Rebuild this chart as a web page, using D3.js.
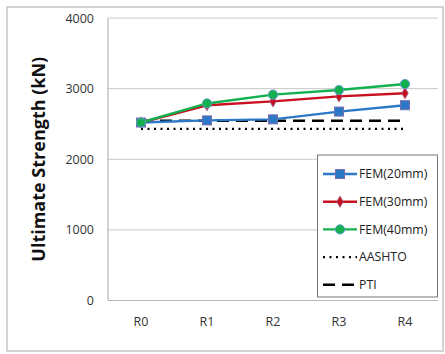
<!DOCTYPE html>
<html>
<head>
<meta charset="utf-8">
<script src="https://cdn.jsdelivr.net/npm/d3@7"></script>
<style>
  html, body { margin: 0; padding: 0; background: #fff; }
  svg { display: block; font-family: "Open Sans", "Noto Sans", sans-serif; }
</style>
</head>
<body>
<svg id="chart" width="445" height="354"></svg>
<script>
// Reinforcement cases along the x axis
const categories = ["R0", "R1", "R2", "R3", "R4"];

// Ultimate strength (kN) from the finite element runs
const fem20 = [2520, 2550, 2565, 2675, 2765];
const fem30 = [2520, 2765, 2820, 2890, 2935];
const fem40 = [2520, 2790, 2915, 2980, 3065];

// Code-based predictions (constant across cases)
const aashto = [2430, 2430, 2430, 2430, 2430];
const pti = [2545, 2545, 2545, 2545, 2545];

const yTicks = [0, 1000, 2000, 3000, 4000];

const series = [
  { name: "FEM(20mm)", values: fem20, color: "#2a78c6", marker: "square" },
  { name: "FEM(30mm)", values: fem30, color: "#c8101e", marker: "diamond" },
  { name: "FEM(40mm)", values: fem40, color: "#12b04e", marker: "circle" },
  { name: "AASHTO", values: aashto, color: "#000", dash: "2,4.5", width: 2.2 },
  { name: "PTI", values: pti, color: "#000", dash: "12,7", width: 2.6 }
];

const svg = d3.select("#chart");
const plot = { left: 108, right: 438, top: 18, bottom: 300.5 };

// outer chart frame
svg.append("rect")
  .attr("x", 7).attr("y", 7).attr("width", 436).attr("height", 344)
  .attr("fill", "#fff").attr("stroke", "#c4c4c4").attr("stroke-width", 1.5);

const x = d3.scaleBand().domain(categories).range([plot.left, plot.right]);
const y = d3.scaleLinear().domain([0, 4000]).range([plot.bottom, plot.top]);

// horizontal gridlines
svg.append("g").selectAll("line").data(yTicks.filter(d => d > 0)).join("line")
  .attr("x1", plot.left).attr("x2", plot.right)
  .attr("y1", d => y(d)).attr("y2", d => y(d))
  .attr("stroke", "#c8c8c8").attr("stroke-width", 1);

// axis lines
svg.append("line")
  .attr("x1", plot.left).attr("x2", plot.left)
  .attr("y1", plot.top).attr("y2", plot.bottom)
  .attr("stroke", "#b8b8b8").attr("stroke-width", 1.2);
svg.append("line")
  .attr("x1", plot.left).attr("x2", plot.right)
  .attr("y1", plot.bottom).attr("y2", plot.bottom)
  .attr("stroke", "#b8b8b8").attr("stroke-width", 1.2);

// y axis tick labels
const yAxis = d3.axisLeft(y).tickValues(yTicks).tickFormat(d3.format("d"))
  .tickSize(0).tickPadding(14);
const gy = svg.append("g").attr("transform", `translate(${plot.left},0)`).call(yAxis);
gy.select(".domain").remove();
gy.selectAll("text").attr("font-size", 12.5).attr("fill", "#333")
  .attr("font-family", "'Open Sans', sans-serif");

// x axis category labels
const xAxis = d3.axisBottom(x).tickSize(0).tickPadding(17);
const gx = svg.append("g").attr("transform", `translate(0,${plot.bottom})`).call(xAxis);
gx.select(".domain").remove();
gx.selectAll("text").attr("font-size", 12.5).attr("fill", "#333")
  .attr("font-family", "'Open Sans', sans-serif");

// y axis title
svg.append("text")
  .attr("transform", `translate(45,${(plot.top + plot.bottom) / 2}) rotate(-90)`)
  .attr("text-anchor", "middle")
  .attr("font-size", 18).attr("font-weight", "bold").attr("fill", "#111")
  .text("Ultimate Strength (kN)");

const cx = c => x(c) + x.bandwidth() / 2;
const line = d3.line().x((d, i) => cx(categories[i])).y(d => y(d));

function drawMarker(g, type, px, py, color) {
  if (type === "square") {
    g.append("rect").attr("x", px - 4.5).attr("y", py - 4.5).attr("width", 9).attr("height", 9)
      .attr("fill", color).attr("stroke", "#7a6cae").attr("stroke-width", 1);
  } else if (type === "diamond") {
    g.append("path").attr("d", d3.symbol(d3.symbolDiamond, 36)())
      .attr("transform", `translate(${px},${py})`)
      .attr("fill", color).attr("stroke", "#9a5a8a").attr("stroke-width", 0.8);
  } else if (type === "circle") {
    g.append("circle").attr("cx", px).attr("cy", py).attr("r", 4.6)
      .attr("fill", color).attr("stroke", "#5f9bc8").attr("stroke-width", 1);
  }
}

// reference lines drawn first, FEM series on top
const order = [3, 4, 0, 1, 2];
order.forEach(k => {
  const s = series[k];
  const g = svg.append("g");
  g.append("path").datum(s.values).attr("d", line)
    .attr("fill", "none").attr("stroke", s.color)
    .attr("stroke-width", s.width || 2.4)
    .attr("stroke-dasharray", s.dash || null);
  if (s.marker) {
    s.values.forEach((v, i) => drawMarker(g, s.marker, cx(categories[i]), y(v), s.color));
  }
});

// legend
const lg = svg.append("g");
lg.append("rect").attr("x", 317.5).attr("y", 155).attr("width", 120).attr("height", 142)
  .attr("fill", "#fff").attr("stroke", "#777").attr("stroke-width", 1);
series.forEach((s, i) => {
  const ly = 174 + i * 27.7;
  lg.append("line").attr("x1", 323).attr("x2", 357).attr("y1", ly).attr("y2", ly)
    .attr("stroke", s.color).attr("stroke-width", s.width || 2.4)
    .attr("stroke-dasharray", s.dash || null);
  if (s.marker) drawMarker(lg, s.marker, 340, ly, s.color);
  lg.append("text").attr("x", 359).attr("y", ly).attr("dy", "0.35em")
    .attr("font-size", 12.3).attr("fill", "#222").text(s.name);
});
</script>
</body>
</html>
